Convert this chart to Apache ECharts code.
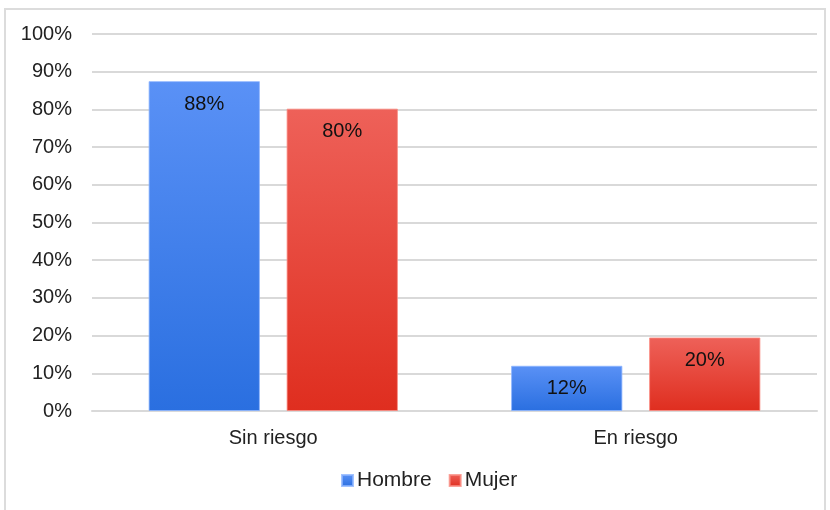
<!DOCTYPE html>
<html>
<head>
<meta charset="utf-8">
<script src="https://cdn.jsdelivr.net/npm/echarts@6/dist/echarts.min.js"></script>
<style>
  html, body { margin: 0; padding: 0; background: #fff; }
  #frame { position: absolute; left: 4px; top: 8px; width: 822px; height: 510px; border: 2px solid #dcdcdc; box-sizing: border-box; }
  #chart { position: absolute; left: 0; top: 0; width: 830px; height: 510px; }
</style>
</head>
<body>
<div id="frame"></div>
<div id="chart"></div>
<script>
// datos
const categorias = ['Sin riesgo', 'En riesgo']
const hombre = [87.5, 12.0]
const mujer = [80.2, 19.5]
const series = ['Hombre', 'Mujer']

const font = 'Liberation Sans, Arial, sans-serif'

function grad(top, bottom) {
  return new echarts.graphic.LinearGradient(0, 0, 0, 1, [
    { offset: 0, color: top },
    { offset: 1, color: bottom }
  ])
}

let myChart = echarts.init(document.getElementById('chart'))
let option = {
  animation: false,
  textStyle: { fontFamily: font },
  grid: {
    left: 92,
    right: 13,
    top: 34,
    bottom: 99,
    containLabel: false
  },
  legend: {
    bottom: 14,
    left: 336,
    itemWidth: 11,
    itemHeight: 11,
    itemGap: 17,
    icon: 'rect',
    textStyle: { fontSize: 21, color: '#222', fontFamily: font, padding: [0, 0, 0, -1] },
    data: series
  },
  xAxis: {
    type: 'category',
    data: categorias,
    axisLine: { show: true, lineStyle: { color: '#d9d9d9', width: 2 } },
    axisTick: { show: false },
    axisLabel: { fontSize: 20, color: '#222', margin: 17, fontFamily: font }
  },
  yAxis: {
    type: 'value',
    min: 0,
    max: 100,
    interval: 10,
    axisLine: { show: false },
    axisTick: { show: false },
    axisLabel: { fontSize: 20, color: '#222', margin: 20, fontFamily: font, formatter: '{value}%' },
    splitLine: { lineStyle: { color: '#d9d9d9', width: 2 } }
  },
  series: [
    {
      name: 'Hombre',
      type: 'bar',
      data: hombre,
      barWidth: '30.7%',
      barGap: '24%',
      itemStyle: {
        color: grad('#5a91f6', '#2a6fe0'),
        borderColor: 'rgba(140,180,255,0.8)',
        borderWidth: 1
      },
      label: {
        show: true,
        position: 'insideTop',
        distance: 13,
        fontSize: 20,
        color: '#111',
        fontFamily: font,
        formatter: p => Math.round(p.value) + '%'
      }
    },
    {
      name: 'Mujer',
      type: 'bar',
      data: mujer,
      barWidth: '30.7%',
      itemStyle: {
        color: grad('#ee6159', '#df2e1f'),
        borderColor: 'rgba(250,140,130,0.8)',
        borderWidth: 1
      },
      label: {
        show: true,
        position: 'insideTop',
        distance: 13,
        fontSize: 20,
        color: '#111',
        fontFamily: font,
        formatter: p => Math.round(p.value) + '%'
      }
    }
  ]
}
myChart.setOption(option)
</script>
</body>
</html>
